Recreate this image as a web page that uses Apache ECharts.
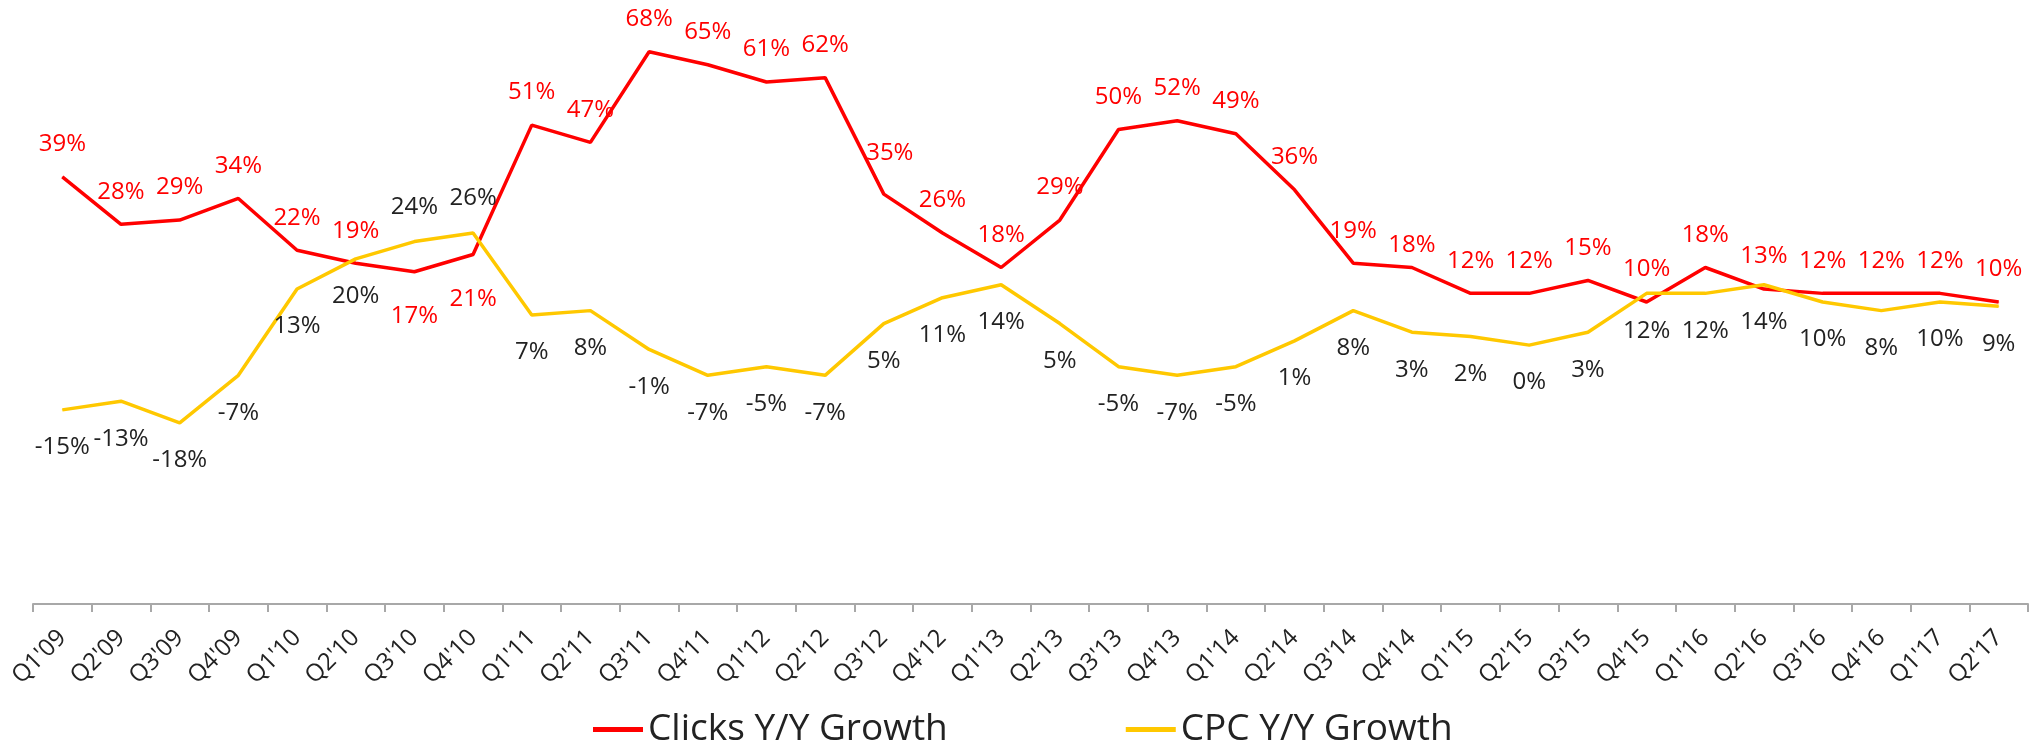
<!DOCTYPE html>
<html>
<head>
<meta charset="utf-8">
<script src="https://cdn.jsdelivr.net/npm/echarts@6/dist/echarts.min.js"></script>
<style>
  html, body { margin: 0; padding: 0; background: #fff; }
  #chart { width: 2039px; height: 746px; }
</style>
</head>
<body>
<div id="chart"></div>
<script>
const categories = [
  "Q1'09", "Q2'09", "Q3'09", "Q4'09", "Q1'10", "Q2'10", "Q3'10", "Q4'10",
  "Q1'11", "Q2'11", "Q3'11", "Q4'11", "Q1'12", "Q2'12", "Q3'12", "Q4'12",
  "Q1'13", "Q2'13", "Q3'13", "Q4'13", "Q1'14", "Q2'14", "Q3'14", "Q4'14",
  "Q1'15", "Q2'15", "Q3'15", "Q4'15", "Q1'16", "Q2'16", "Q3'16", "Q4'16",
  "Q1'17", "Q2'17"
]
const clicksGrowth = [
  39, 28, 29, 34, 22, 19, 17, 21, 51, 47, 68, 65, 61, 62, 35, 26,
  18, 29, 50, 52, 49, 36, 19, 18, 12, 12, 15, 10, 18, 13, 12, 12, 12, 10
]
const cpcGrowth = [
  -15, -13, -18, -7, 13, 20, 24, 26, 7, 8, -1, -7, -5, -7, 5, 11,
  14, 5, -5, -7, -5, 1, 8, 3, 2, 0, 3, 12, 12, 14, 10, 8, 10, 9
]

// labels that sit on the other side of the line
const clicksBelow = [6, 7]
const cpcAbove = [6, 7]
// small manual nudges of a few labels
const clicksNudge = { 14: [6, -8], 23: [0, 10] }

const font = 'Open Sans'
const red = '#ff0000'
const yellow = '#ffc800'

const clicksData = clicksGrowth.map((v, i) => {
  const item = { value: v }
  if (clicksBelow.includes(i)) item.label = { position: 'bottom', distance: 32 }
  if (clicksNudge[i]) item.label = { offset: clicksNudge[i] }
  return item
})
const cpcData = cpcGrowth.map((v, i) => {
  if (cpcAbove.includes(i)) return { value: v, label: { position: 'top', distance: 22 } }
  return v
})

const chart = echarts.init(document.getElementById('chart'))
const option = {
  animation: false,
  textStyle: { fontFamily: font },
  grid: {
    left: 33,
    right: 11,
    top: -2,
    bottom: 142
  },
  legend: {
    top: 706,
    left: 588,
    icon: 'rect',
    itemWidth: 50,
    itemHeight: 5,
    itemGap: 178,
    textStyle: { fontSize: 37, color: '#222', fontFamily: font },
    data: ['Clicks Y/Y Growth', 'CPC Y/Y Growth']
  },
  xAxis: {
    type: 'category',
    data: categories,
    boundaryGap: true,
    axisLine: { onZero: false, lineStyle: { color: '#a8a8a8', width: 2 } },
    axisTick: { show: true, interval: 0, length: 8, lineStyle: { color: '#a8a8a8', width: 2 } },
    axisLabel: {
      rotate: 45,
      interval: 0,
      margin: 30,
      fontSize: 24,
      color: '#222'
    }
  },
  yAxis: {
    type: 'value',
    min: -60,
    max: 80,
    show: false,
    splitLine: { show: false }
  },
  series: [
    {
      name: 'Clicks Y/Y Growth',
      type: 'line',
      data: clicksData,
      symbol: 'circle',
      symbolSize: 1,
      itemStyle: { color: red },
      lineStyle: { color: red, width: 3.5 },
      label: {
        show: true,
        position: 'top',
        distance: 20,
        fontSize: 24,
        color: red,
        formatter: p => p.value + '%'
      }
    },
    {
      name: 'CPC Y/Y Growth',
      type: 'line',
      data: cpcData,
      symbol: 'circle',
      symbolSize: 1,
      itemStyle: { color: yellow },
      lineStyle: { color: yellow, width: 3.5 },
      label: {
        show: true,
        position: 'bottom',
        distance: 25,
        fontSize: 24,
        color: '#222',
        formatter: p => p.value + '%'
      }
    }
  ]
}
chart.setOption(option)
</script>
</body>
</html>
